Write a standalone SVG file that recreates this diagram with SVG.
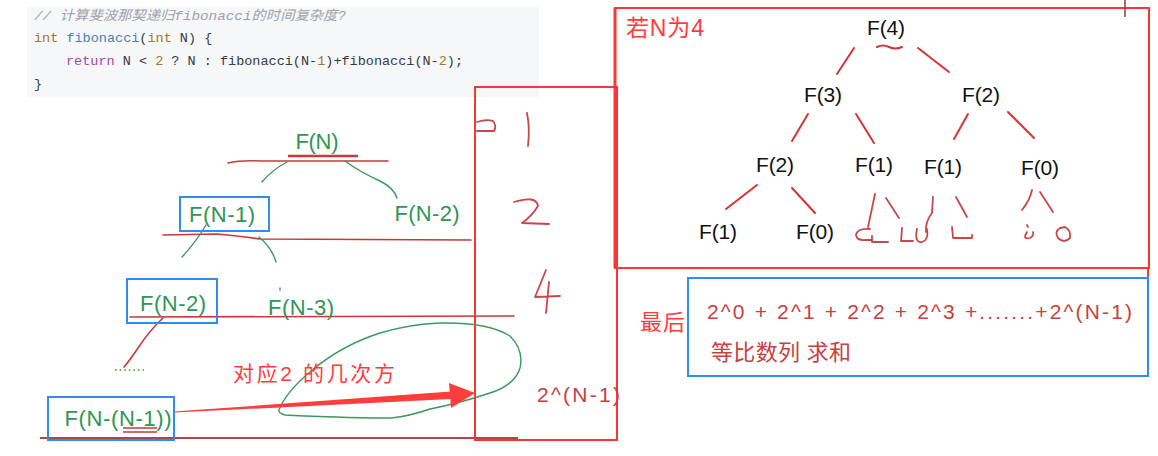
<svg xmlns="http://www.w3.org/2000/svg" width="1158" height="456" viewBox="0 0 1158 456">
<style>
.code{font-family:"Liberation Mono","Noto Sans CJK SC",monospace;font-size:13.5px;fill:#383a42}
.kw{fill:#a0762e}.fn{fill:#4b7fb8}.rt{fill:#a347a3}.num{fill:#a0762e}
.cm{fill:#a0a1a7;font-style:italic}
.g{font-family:"Liberation Sans","Noto Sans CJK SC",sans-serif;font-size:22px;fill:#2f9653;text-anchor:middle}
.k{font-family:"Liberation Sans","Noto Sans CJK SC",sans-serif;font-size:21px;fill:#111;text-anchor:middle}
.r{font-family:"Liberation Sans","Noto Sans CJK SC",sans-serif;fill:#ff3b3b}
.dr{font-family:"Liberation Sans","Noto Sans CJK SC",sans-serif;fill:#c8403f}
.ln{fill:none;stroke:#c8383a;stroke-width:1.6;stroke-linecap:round;stroke-linejoin:round}
.gl{fill:none;stroke:#3a9a5c;stroke-width:1.4;stroke-linecap:round;stroke-linejoin:round}
.tr{fill:none;stroke:#d63434;stroke-width:2;stroke-linecap:round;stroke-linejoin:round}
.hw{fill:none;stroke:#c9474a;stroke-width:1.8;stroke-linecap:round;stroke-linejoin:round}
.bb{fill:none;stroke:#2e8cf3;stroke-width:2}
.rb{fill:none;stroke:#ff3535;stroke-width:2}
</style>

<g id="code">
<rect x="27" y="7" width="512" height="90" fill="#f6f7f8"/>
<text class="code cm" x="34" y="20" textLength="312" lengthAdjust="spacingAndGlyphs">// 计算斐波那契递归fibonacci的时间复杂度?</text>
<text class="code" x="34" y="42"><tspan class="kw">int</tspan> <tspan class="fn">fibonacci</tspan>(<tspan class="kw">int</tspan> N) {</text>
<text class="code" x="66" y="65"><tspan class="rt">return</tspan> N &lt; <tspan class="num">2</tspan> ? N : fibonacci(N-<tspan class="num">1</tspan>)+fibonacci(N-<tspan class="num">2</tspan>);</text>
<text class="code" x="34" y="88">}</text>
</g>

<g id="connectors">
<path class="ln" d="M228 163 Q240 160 262 161 L388 161"/>
<path d="M288 156 L358 156" stroke="#c8383a" stroke-width="2.4" fill="none"/>
<path class="gl" d="M287 162 Q272 170 262 182"/>
<path class="gl" d="M345 161 Q360 172 380 181 Q394 188 397 198"/>
<path class="ln" d="M163 235 L217 234 Q240 236 260 239 L471 240"/>
<path class="gl" d="M206 225 Q196 242 182 257"/>
<path class="gl" d="M259 237 Q272 248 276 262"/>
<path class="gl" d="M280 288 L280 290"/>
<path class="ln" d="M130 317 L514 316"/>
<path class="ln" d="M163 318 Q150 330 138 348 Q130 360 124 367"/>
<path d="M115 370 L144 370" stroke="#3a9a5c" stroke-width="1.6" stroke-dasharray="1.6 3" fill="none"/>
<path class="gl" d="M279 410 Q286 392 310 372 Q340 346 380 333 Q410 324 440 323 Q488 322 510 336 Q524 350 520 368 Q515 385 490 393 Q460 403 430 409 Q410 416 391 418 Q360 418 336 417 Q300 416 285 415 Q278 413 279 410"/>
<path d="M40 438 L518 438" stroke="#b04545" stroke-width="2" fill="none"/>
<path d="M123 428 L157 428 M123 432 L157 432" stroke="#c8383a" stroke-width="1.4" fill="none"/>
<polygon points="174,411.6 174,412.6 451,399 451,391.5" fill="#ff3d3d"/>
<polygon points="449,383 475,393 451,408" fill="#ff3d3d"/>

<path class="tr" d="M877 47 Q883 44 889 47 Q895 50 902 47"/>
<path class="tr" d="M854 48 L837 74"/>
<path class="tr" d="M918 48 L949 72"/>
<path class="tr" d="M808 114 L792 141"/>
<path class="tr" d="M856 114 L874 143"/>
<path class="tr" d="M968 114 L954 139"/>
<path class="tr" d="M1008 112 L1034 138"/>
<path class="tr" d="M757 185 L726 209"/>
<path class="tr" d="M792 188 L815 213"/>
<path class="hw" d="M875 194 L868 227"/>
<path class="hw" d="M870 229 Q857 228 856 235 Q857 241 866 240 L872 240 M872 236 L872 242 L888 242"/>
<path class="hw" d="M886 198 L899 218"/>
<path class="hw" d="M902 228 L901 241 L913 241"/>
<path class="hw" d="M933 197 L932 213 Q925 222 926 232"/>
<path class="hw" d="M917 229 Q914 243 922 242 Q929 240 927 229"/>
<path class="hw" d="M956 197 L967 217"/>
<path class="hw" d="M952 227 L953 238 L972 238 L972 235"/>
<path class="hw" d="M1032 190 Q1030 200 1022 210"/>
<path class="hw" d="M1040 192 L1053 212"/>
<path class="hw" d="M1027 225 L1028 227 M1027 232 Q1022 240 1030 238 Q1034 236 1033 232"/>
<path class="hw" d="M1060 228 Q1054 232 1058 238 Q1064 244 1070 238 Q1071 230 1065 227 Z"/>
</g>

<g id="left-tree">
<text class="g" x="317" y="149" textLength="43">F(N)</text>
<rect class="bb" x="180" y="197" width="89" height="34"/>
<text class="g" x="222" y="222" textLength="66">F(N-1)</text>
<text class="g" x="427" y="221" textLength="65">F(N-2)</text>
<rect class="bb" x="127" y="279" width="90" height="44"/>
<text class="g" x="173" y="311" textLength="66">F(N-2)</text>
<text class="g" x="301" y="315" textLength="66">F(N-3)</text>
<rect class="bb" x="48" y="397" width="126" height="43"/>
<text class="g" x="118" y="426" textLength="107">F(N-(N-1))</text>
<text class="r" x="233" y="381" font-size="21" textLength="162">对应2 的几次方</text>
</g>

<g id="center-box">
<rect class="rb" x="475" y="87" width="142" height="353"/>
<path class="hw" d="M477 122 Q486 119 493 121 Q497 126 494 131 L477 131"/>
<path class="hw" d="M527 113 Q530 128 528 146"/>
<path class="hw" d="M514 202 Q536 195 538 206 Q532 216 522 223 L549 224"/>
<path class="hw" d="M546 270 L535 297 L560 296 M549 282 L546 313"/>
<text class="dr" x="537" y="402" font-size="21" textLength="83">2^(N-1)</text>
</g>

<g id="right-tree">
<rect class="rb" x="615" y="8" width="534" height="260"/>
<path d="M615 8 L615 268" stroke="#ff3535" stroke-width="3"/>
<path d="M617 268 L617 332 M1148 268 L1148 332" stroke="#ff3535" stroke-width="2"/>
<path d="M1125 0 L1125 17" stroke="#9a3b3b" stroke-width="1.5"/>
<text class="r" x="626" y="36" font-size="23" textLength="78">若N为4</text>
<text class="k" x="886" y="35" textLength="38">F(4)</text>
<text class="k" x="823" y="102" textLength="38">F(3)</text>
<text class="k" x="981" y="102" textLength="38">F(2)</text>
<text class="k" x="775" y="172" textLength="38">F(2)</text>
<text class="k" x="874" y="172" textLength="38">F(1)</text>
<text class="k" x="943" y="174" textLength="38">F(1)</text>
<text class="k" x="1040" y="175" textLength="38">F(0)</text>
<text class="k" x="718" y="239" textLength="38">F(1)</text>
<text class="k" x="815" y="239" textLength="38">F(0)</text>
</g>

<g id="sum">
<text class="r" x="640" y="330" font-size="22" textLength="45">最后</text>
<rect class="bb" x="688" y="278" width="460" height="98"/>
<text class="dr" x="707" y="319" font-size="21" textLength="425">2^0 + 2^1 + 2^2 + 2^3 +.......+2^(N-1)</text>
<text class="dr" x="711" y="360" font-size="22" textLength="140">等比数列 求和</text>
</g>
</svg>
